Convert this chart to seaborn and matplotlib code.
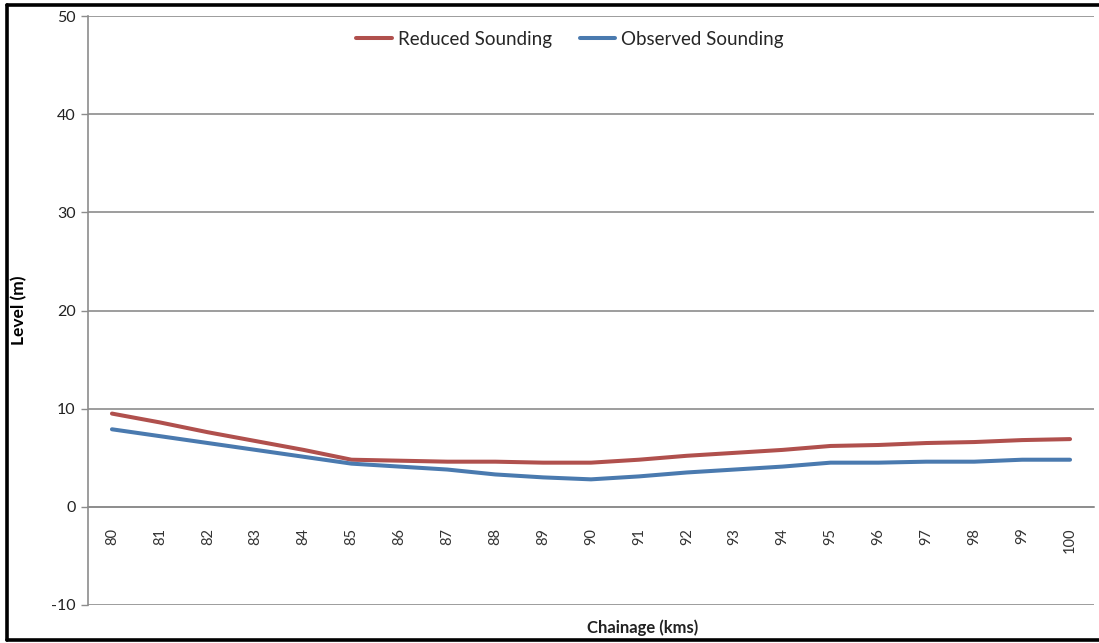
import matplotlib
matplotlib.use("Agg")
import matplotlib.pyplot as plt
from matplotlib.lines import Line2D
import seaborn as sns
import pandas as pd

# Chainage stations (km) and soundings (m)
chainage = list(range(80, 101))
reduced_sounding = [9.5, 8.6, 7.6, 6.7, 5.8, 4.8, 4.7, 4.6, 4.6, 4.5, 4.5,
                    4.8, 5.2, 5.5, 5.8, 6.2, 6.3, 6.5, 6.6, 6.8, 6.9]
observed_sounding = [7.9, 7.2, 6.5, 5.8, 5.1, 4.4, 4.1, 3.8, 3.3, 3.0, 2.8,
                     3.1, 3.5, 3.8, 4.1, 4.5, 4.5, 4.6, 4.6, 4.8, 4.8]
series_names = ["Reduced Sounding", "Observed Sounding"]
y_ticks = [-10, 0, 10, 20, 30, 40, 50]

df = pd.DataFrame({
    "Chainage": chainage * 2,
    "Level": reduced_sounding + observed_sounding,
    "Series": [series_names[0]] * len(chainage) + [series_names[1]] * len(chainage),
})

sns.set_theme(style="white")
plt.rcParams["font.family"] = ["Lato", "DejaVu Sans"]
plt.rcParams["axes.unicode_minus"] = False

fig = plt.figure(figsize=(10.99, 6.43), dpi=100)
ax = fig.add_axes([88 / 1099, 1 - 605 / 643, (1094 - 88) / 1099, (605 - 16) / 643])

sns.lineplot(data=df, x="Chainage", y="Level", hue="Series",
             palette={series_names[0]: "#B0504D", series_names[1]: "#4A7AAF"},
             linewidth=2.9, ax=ax, legend=False)

# Category axis crosses the value axis at zero
for side in ["top", "right"]:
    ax.spines[side].set_visible(False)
ax.spines["bottom"].set_position(("data", 0))
ax.spines["left"].set_color("#8c8c8c")
ax.spines["left"].set_linewidth(1.2)
ax.spines["bottom"].set_color("#8c8c8c")
ax.spines["bottom"].set_linewidth(1.2)

ax.set_xlim(chainage[0] - 0.5, chainage[-1] + 0.5)
ax.set_ylim(y_ticks[0], y_ticks[-1])
ax.set_yticks(y_ticks)
ax.set_xticks(chainage)
ax.set_xticklabels([str(c) for c in chainage], rotation=90, fontsize=10.5,
                   color="#333333", va="top", ha="center")
ax.tick_params(axis="x", length=0, pad=15)
ax.tick_params(axis="y", length=5, width=1, color="#8c8c8c", labelsize=11.5,
               labelcolor="#222222", pad=4, left=True)

ax.yaxis.grid(True, color="#8c8c8c", linewidth=1.2)
ax.xaxis.grid(False)

ax.set_xlabel("Chainage (kms)", fontsize=12, fontweight="bold", color="#222222")
ax.xaxis.set_label_coords(0.551, -0.024)
ax.set_ylabel("Level (m)", fontsize=12.5, fontweight="bold", color="#000000")
ax.yaxis.set_label_coords(-0.06, 0.5)

handles = [Line2D([], [], color="#B0504D", linewidth=2.9),
           Line2D([], [], color="#4A7AAF", linewidth=2.9)]
fig.legend(handles, series_names, loc="center", ncol=2,
           bbox_to_anchor=(570 / 1099, 1 - 39 / 643), frameon=False,
           fontsize=13.5, handlelength=1.9, handletextpad=0.3,
           columnspacing=1.5)

# Black frame around the chart area
for (x0, y0, x1, y1) in [(7, 5, 1099, 5), (7, 5, 7, 640), (7, 640, 1099, 640)]:
    fig.add_artist(Line2D([x0 / 1099, x1 / 1099], [1 - y0 / 643, 1 - y1 / 643],
                          color="black", linewidth=2.6, transform=fig.transFigure))

fig.savefig("out.png", dpi=100)
